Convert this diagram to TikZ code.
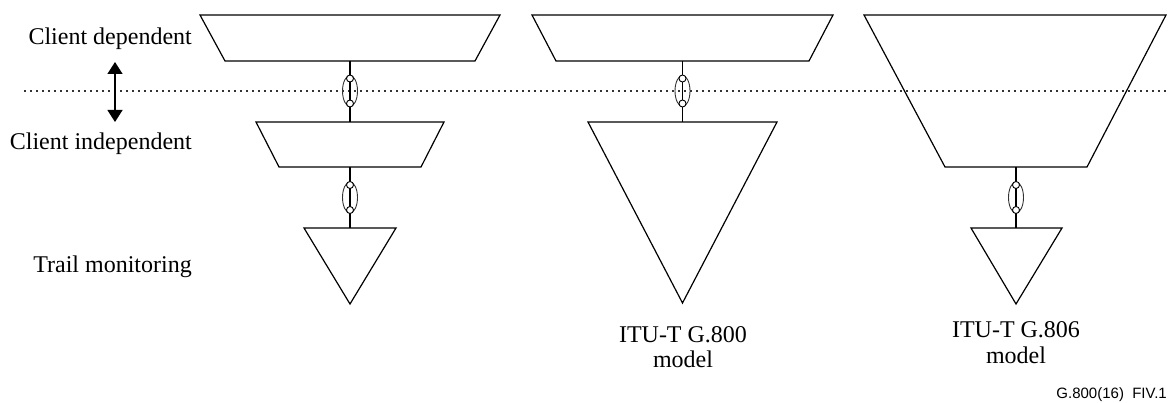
\documentclass[tikz,border=0pt]{standalone}
\usepackage{fontspec}
\setmainfont{Liberation Serif}
\setsansfont{Liberation Sans}
\usetikzlibrary{arrows.meta}
\tikzset{
  shp/.style={line width=1.2pt, line join=miter},
  wire/.style={line width=1.2pt},
  dotline/.style={line width=1.3pt, black!80, dash pattern=on 2pt off 4pt},
  lbl/.style={font=\fontsize{24}{26}\selectfont, inner sep=0pt},
  foot/.style={font=\sffamily\fontsize{15}{17}\selectfont, inner sep=0pt},
  ell/.style={line width=0.9pt, black!80},
  port/.style={circle, draw, line width=0.9pt, fill=white, minimum size=7pt, inner sep=0pt},
}
\begin{document}
\begin{tikzpicture}[x=1pt,y=-1pt]
\useasboundingbox (0,0) rectangle (1168,403);
% dotted boundary line
\coordinate (dl) at (24,91);
\coordinate (dr) at (1168,91);
\draw[dotline] (dl) -- (dr);

% ---- left column ----
\draw[shp] (200,15) -- (500,15) -- (475,61) -- (225,61) -- cycle;
\coordinate (t1b) at (350,61);
\draw[shp] (256,122) -- (444,122) -- (421,167) -- (279,167) -- cycle;
\coordinate (t2t) at (350,122);
\coordinate (t2b) at (350,167);
\draw[shp] (304,228) -- (396,228) -- (350,304) -- cycle;
\coordinate (tr1t) at (350,228);

% ---- middle column ----
\draw[shp] (532,15) -- (833,15) -- (809,61) -- (556,61) -- cycle;
\coordinate (t3b) at (682.5,61);
\draw[shp] (588,122) -- (777,122) -- (682.5,303) -- cycle;
\coordinate (tr2t) at (682.5,122);

% ---- right column ----
\draw[shp] (864,15) -- (1166,15) -- (1087,167) -- (945,167) -- cycle;
\coordinate (t4b) at (1016,167);
\draw[shp] (971,228) -- (1062,228) -- (1016,304) -- cycle;
\coordinate (tr3t) at (1016,228);

% ---- connection symbols ----
\foreach \a/\b/\cx/\cy in {t1b/t2t/350/91, t2b/tr1t/350/197.5, t3b/tr2t/682.5/91, t4b/tr3t/1016/197.5}{
  \draw[wire] (\a) -- (\b);
  \draw[ell] (\cx,\cy) ellipse [x radius=7.5, y radius=15.5];
  \node[port] at (\cx,\cy-12.5) {};
  \node[port] at (\cx,\cy+12.5) {};
}

% ---- double arrow ----
\coordinate (at) at (115,62);
\coordinate (ab) at (115,122);
\draw[line width=1.3pt, {Triangle[length=12pt,width=15pt]}-{Triangle[length=12pt,width=15pt]}] (at) -- (ab);

% ---- labels ----
\node[lbl, anchor=base east] (cd) at (192,45) {Client dependent};
\node[lbl, anchor=base east] (ci) at (192,150) {Client independent};
\node[lbl, anchor=base east] (tm) at (192,273) {Trail monitoring};
\node[lbl, anchor=base] (g800a) at (683,343) {ITU-T G.800};
\node[lbl, anchor=base] (g800b) at (683,368) {model};
\node[lbl, anchor=base] (g806a) at (1016,338) {ITU-T G.806};
\node[lbl, anchor=base] (g806b) at (1016,363) {model};
\node[foot, anchor=base east] (fn) at (1167,399) {G.800(16)\ \ FIV.1};
\end{tikzpicture}
\end{document}
